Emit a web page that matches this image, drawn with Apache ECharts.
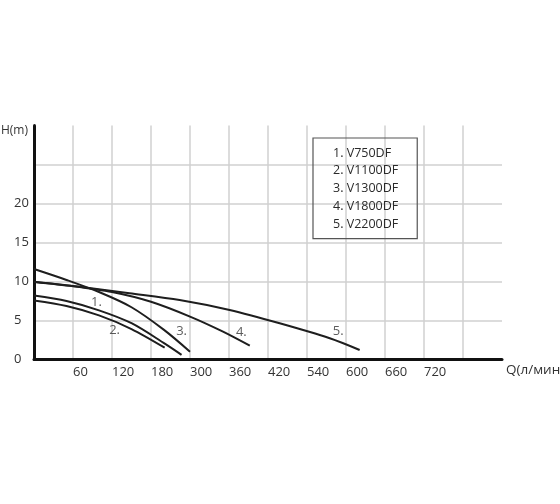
<!DOCTYPE html>
<html>
<head>
<meta charset="utf-8">
<script src="https://cdn.jsdelivr.net/npm/echarts@6/dist/echarts.min.js"></script>
<style>
html,body{margin:0;padding:0;background:#fff;}
#chart{width:560px;height:504px;}
</style>
</head>
<body>
<div id="chart"></div>
<script>
// Tick labels printed under the vertical grid lines (as in the original drawing)
const xTickLabels = ['60','120','180','300','360','420','540','600','660','720'];
const yTickLabels = [0, 5, 10, 15, 20];
const seriesNames = ['1. V750DF','2. V1100DF','3. V1300DF','4. V1800DF','5. V2200DF'];
// Curves: [Q, H]
const curve1 = [[0,8.2],[50,7.5],[100,6.3],[150,4.65],[200,2.1],[227,0.6]];
const curve2 = [[0,7.56],[50,6.85],[100,5.65],[150,3.9],[201,1.51]];
const curve3 = [[0,11.6],[50,10.2],[100,8.65],[150,6.7],[200,3.8],[240,1.0]];
const curve4 = [[0,9.94],[60,9.4],[120,8.65],[180,7.4],[240,5.5],[290,3.6],[332,1.77]];
const curve5 = [[0,9.97],[70,9.33],[147,8.5],[224,7.63],[301,6.35],[378,4.64],[455,2.72],[501,1.22]];
const curveLabels = [['1.',96,7.37],['2.',124,3.69],['3.',227,3.65],['4.',319,3.49],['5.',468,3.56]];

const curves = [curve1, curve2, curve3, curve4, curve5];
const FONT = 'Open Sans';
const chart = echarts.init(document.getElementById('chart'), null, {renderer:'canvas'});

const lineSeries = curves.map((c, i) => ({
  name: seriesNames[i],
  type: 'line',
  data: c,
  smooth: 0.3,
  showSymbol: false,
  symbol: 'none',
  lineStyle: {color: '#1e1e1e', width: 2},
  itemStyle: {color: '#1e1e1e'},
  animation: false,
  silent: true
}));

chart.setOption({
  backgroundColor: '#fff',
  animation: false,
  grid: {left: 34, right: 58, top: 125.5, bottom: 144.5, containLabel: false, outerBoundsMode: 'none'},
  legend: {
    data: seriesNames,
    orient: 'vertical',
    left: 313,
    top: 138,
    icon: 'none',
    itemWidth: 0,
    itemHeight: 14,
    itemGap: 4.3,
    padding: [8, 19, 8, 15],
    borderColor: '#555',
    borderWidth: 1.2,
    selectedMode: false,
    textStyle: {fontFamily: FONT, fontSize: 12.5, color: '#2a2a2a'}
  },
  xAxis: {
    type: 'value',
    min: 0, max: 720, interval: 60,
    name: 'Q(л/мин)',
    nameLocation: 'end',
    nameGap: 4,
    nameTextStyle: {fontFamily: FONT, fontSize: 13.5, color: '#333', verticalAlign: 'top', padding: [4,0,0,0]},
    axisLine: {show: true, lineStyle: {color: '#111', width: 3}},
    axisTick: {show: false},
    splitLine: {show: true, showMinLine: false, showMaxLine: false, lineStyle: {color: '#d0d0d0', width: 1.5}},
    axisLabel: {
      fontFamily: FONT, fontSize: 13, color: '#333', align: 'left', margin: 6,
      formatter: (v) => { const i = Math.round(v/60) - 1; return (i >= 0 && i < xTickLabels.length) ? xTickLabels[i] : ''; }
    }
  },
  yAxis: {
    type: 'value',
    min: 0, max: 30, interval: 5,
    name: 'H(m)',
    nameLocation: 'end',
    nameGap: -5,
    nameTextStyle: {fontFamily: FONT, fontSize: 12, color: '#333', align: 'right', verticalAlign: 'middle', padding: [0,6,0,0]},
    axisLine: {show: true, lineStyle: {color: '#111', width: 3}},
    axisTick: {show: false},
    splitLine: {show: true, showMinLine: false, showMaxLine: false, lineStyle: {color: '#d0d0d0', width: 1.5}},
    axisLabel: {
      fontFamily: FONT, fontSize: 13, color: '#333', align: 'left', margin: 20,
      padding: [0,0,8,0],
      formatter: (v) => yTickLabels.includes(v) ? String(v) : ''
    }
  },
  series: lineSeries.concat([{
    name: 'curve labels',
    type: 'scatter',
    symbolSize: 0,
    silent: true,
    data: curveLabels.map(l => ({name: l[0], value: [l[1], l[2]]})),
    label: {show: true, position: 'inside', formatter: p => p.name, fontFamily: FONT, fontSize: 13, color: '#333'}
  }])
});
</script>
</body>
</html>
